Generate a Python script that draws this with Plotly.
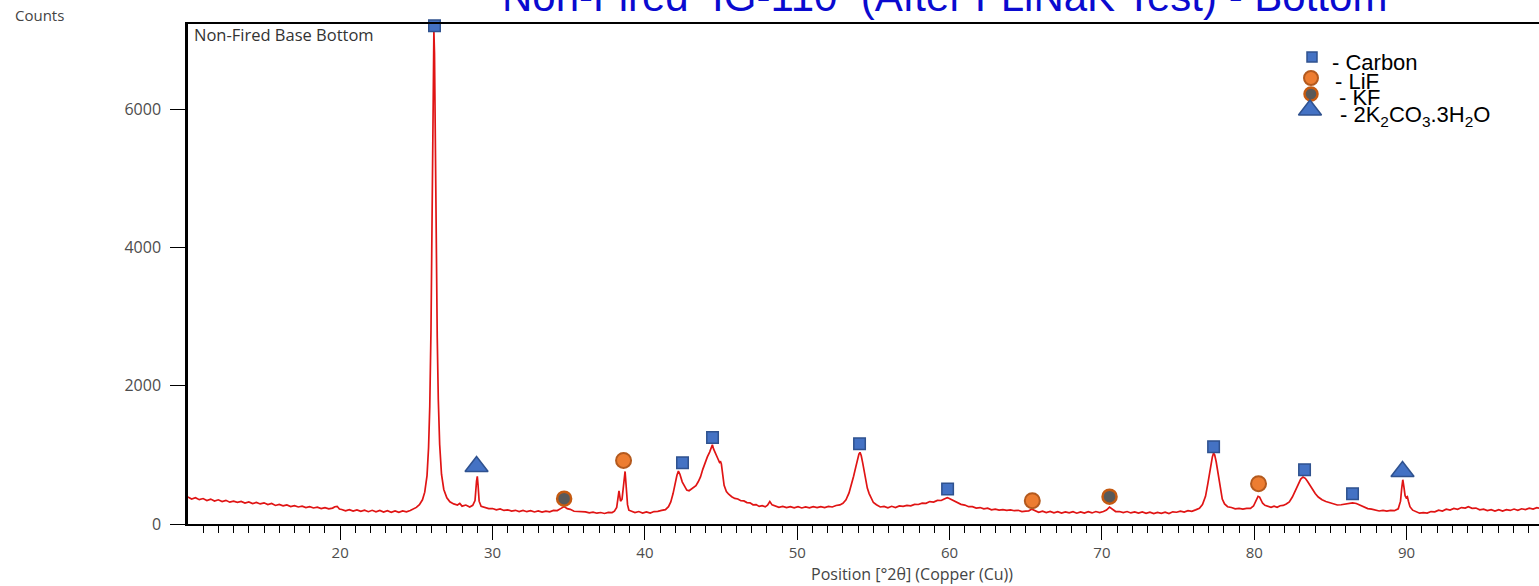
import plotly.graph_objects as go

# ---------------- data ----------------
seg_10_25 = [(10.0, 390), (10.25, 362), (10.5, 380), (10.75, 352), (11.0, 368), (11.25, 340), (11.5, 360),
             (11.75, 332), (12.0, 350), (12.25, 324), (12.5, 342), (12.75, 316), (13.0, 330), (13.25, 312),
             (13.5, 326), (13.75, 302), (14.0, 318), (14.25, 296), (14.5, 312), (14.75, 290), (15.0, 306),
             (15.25, 280), (15.5, 296), (15.75, 268), (16.0, 282), (16.25, 262), (16.5, 276), (16.75, 252),
             (17.0, 266), (17.25, 246), (17.5, 258), (17.75, 238), (18.0, 250), (18.25, 232), (18.5, 244),
             (18.75, 224), (19.0, 236), (19.25, 218), (19.5, 230), (19.65, 250), (19.8, 256), (19.95, 216),
             (20.1, 210), (20.35, 190), (20.6, 208), (20.85, 186), (21.1, 204), (21.35, 182), (21.6, 200),
             (21.85, 178), (22.1, 198), (22.35, 176), (22.6, 196), (22.85, 172), (23.1, 192), (23.35, 170),
             (23.6, 190), (23.85, 168), (24.1, 188), (24.35, 176), (24.6, 194), (24.8, 215)]
seg_25_30 = [(25.0, 240), (25.2, 280), (25.4, 350), (25.55, 460), (25.7, 700), (25.8, 1100), (25.88, 1700),
             (25.96, 2800), (26.02, 4100), (26.08, 5600), (26.12, 6600), (26.15, 7130), (26.19, 6800),
             (26.24, 5500), (26.3, 4000), (26.37, 2700), (26.44, 1800), (26.53, 1150), (26.65, 720),
             (26.8, 500), (27.0, 380), (27.2, 320), (27.45, 290), (27.7, 275), (27.85, 298), (28.0, 258),
             (28.25, 274), (28.5, 246), (28.7, 270), (28.85, 340), (28.95, 620), (29.0, 690), (29.05, 560),
             (29.12, 330), (29.25, 255), (29.5, 240), (29.75, 222)]
seg_30_41 = [(30.0, 224), (30.25, 204), (30.5, 218), (30.75, 196), (31.0, 204), (31.25, 186), (31.5, 198),
             (31.75, 180), (32.0, 196), (32.25, 178), (32.5, 192), (32.75, 174), (33.0, 190), (33.25, 172),
             (33.5, 186), (33.75, 176), (34.0, 196), (34.25, 194), (34.5, 226), (34.7, 252), (34.9, 222),
             (35.1, 212), (35.35, 184), (35.6, 180), (35.85, 170), (36.1, 176), (36.35, 160), (36.6, 170),
             (36.85, 156), (37.1, 166), (37.35, 152), (37.6, 168), (37.85, 166), (38.0, 185), (38.15, 240),
             (38.3, 480), (38.4, 330), (38.5, 360), (38.62, 600), (38.7, 760), (38.78, 520), (38.86, 280),
             (38.95, 200), (39.1, 184), (39.35, 164), (39.6, 180), (39.85, 158), (40.1, 176), (40.35, 158),
             (40.6, 180), (40.85, 182)]
seg_41_53 = [(41.1, 196), (41.35, 208), (41.55, 250), (41.7, 320), (41.85, 440), (42.0, 610), (42.1, 700),
             (42.2, 765), (42.3, 720), (42.45, 610), (42.6, 540), (42.75, 490), (42.9, 480), (43.05, 505),
             (43.2, 525), (43.35, 555), (43.5, 610), (43.65, 680), (43.8, 790), (43.95, 890), (44.1, 970),
             (44.25, 1040), (44.35, 1100), (44.43, 1145), (44.5, 1090), (44.6, 1030), (44.7, 990),
             (44.8, 940), (44.9, 890), (44.97, 900), (45.02, 870), (45.1, 720), (45.2, 560), (45.35, 470),
             (45.5, 430), (45.7, 395), (45.9, 370), (46.1, 362), (46.3, 336), (46.5, 334), (46.7, 310),
             (46.9, 306), (47.1, 278), (47.3, 280), (47.5, 254), (47.7, 266), (47.9, 248), (48.05, 272),
             (48.2, 325), (48.35, 276), (48.55, 258), (48.8, 242), (49.05, 254), (49.3, 236), (49.55, 252),
             (49.8, 234), (50.05, 250), (50.3, 232), (50.55, 248), (50.8, 234), (51.05, 250), (51.3, 236),
             (51.55, 252), (51.8, 238), (52.05, 254), (52.3, 246), (52.55, 268), (52.8, 276)]
seg_53_67 = [(53.0, 300), (53.2, 350), (53.4, 450), (53.55, 560), (53.7, 690), (53.85, 830), (53.95, 930),
             (54.05, 1010), (54.12, 1035), (54.2, 990), (54.3, 880), (54.4, 750), (54.5, 630), (54.6, 520),
             (54.72, 440), (54.85, 370), (55.0, 310), (55.2, 278), (55.45, 246), (55.7, 254), (55.95, 234),
             (56.2, 256), (56.45, 238), (56.7, 262), (56.95, 254), (57.2, 268), (57.45, 262), (57.7, 284),
             (57.95, 282), (58.2, 302), (58.45, 298), (58.7, 324), (58.95, 318), (59.2, 342), (59.45, 340),
             (59.65, 362), (59.85, 380), (59.95, 372), (60.1, 356), (60.3, 330), (60.5, 305), (60.75, 284),
             (61.0, 274), (61.25, 250), (61.5, 250), (61.75, 230), (62.0, 238), (62.25, 218), (62.5, 228),
             (62.75, 206), (63.0, 216), (63.25, 202), (63.5, 208), (63.75, 196), (64.0, 204), (64.25, 192),
             (64.5, 198), (64.75, 180), (65.0, 186), (65.2, 190), (65.4, 215), (65.6, 192), (65.85, 170),
             (66.1, 186), (66.35, 166), (66.6, 182), (66.85, 162)]
seg_67_79 = [(67.1, 178), (67.35, 158), (67.6, 176), (67.85, 160), (68.1, 178), (68.35, 156), (68.6, 176),
             (68.85, 158), (69.1, 178), (69.35, 160), (69.6, 180), (69.85, 164), (70.1, 180), (70.3, 202),
             (70.5, 245), (70.7, 212), (70.9, 180), (71.15, 180), (71.4, 164), (71.65, 180), (71.9, 160),
             (72.15, 176), (72.4, 158), (72.65, 174), (72.9, 154), (73.15, 172), (73.4, 150), (73.65, 168),
             (73.9, 154), (74.15, 172), (74.4, 152), (74.65, 176), (74.9, 170), (75.15, 186), (75.4, 172),
             (75.65, 192), (75.9, 184), (76.15, 204), (76.4, 226), (76.6, 280), (76.8, 400), (76.95, 580),
             (77.05, 720), (77.15, 860), (77.25, 970), (77.33, 1025), (77.4, 1000), (77.5, 900), (77.6, 760),
             (77.7, 600), (77.8, 460), (77.9, 360), (78.05, 290), (78.25, 250), (78.5, 238), (78.75, 220)]
seg_79_99 = [(79.0, 226), (79.25, 214), (79.5, 226), (79.75, 226), (79.95, 260), (80.1, 320), (80.25, 400),
             (80.35, 390), (80.45, 330), (80.55, 300), (80.7, 270), (80.9, 254), (81.1, 240), (81.3, 258),
             (81.5, 242), (81.7, 264), (81.9, 268), (82.1, 290), (82.3, 320), (82.5, 390), (82.7, 480),
             (82.9, 590), (83.05, 650), (83.2, 680), (83.35, 660), (83.5, 615), (83.65, 560), (83.8, 500),
             (84.0, 440), (84.2, 390), (84.45, 350), (84.7, 325), (84.95, 306), (85.2, 285), (85.45, 275),
             (85.7, 278), (85.95, 284), (86.2, 292), (86.45, 305), (86.7, 296), (86.95, 270), (87.2, 245),
             (87.45, 222), (87.7, 214), (87.95, 206), (88.2, 188), (88.45, 198), (88.7, 186), (88.95, 198),
             (89.2, 192), (89.45, 220), (89.6, 330), (89.68, 520), (89.75, 640), (89.82, 540), (89.9, 410),
             (89.97, 380), (90.05, 395), (90.12, 330), (90.22, 250), (90.4, 200), (90.6, 180), (90.85, 156),
             (91.1, 164), (91.35, 158), (91.6, 180), (91.85, 176), (92.1, 200), (92.35, 188), (92.6, 214),
             (92.85, 202), (93.1, 226), (93.35, 212), (93.6, 238), (93.85, 230), (94.05, 250), (94.3, 226),
             (94.55, 230), (94.8, 206), (95.05, 214), (95.3, 194), (95.55, 206), (95.8, 188), (96.05, 206),
             (96.3, 186), (96.55, 208), (96.8, 196), (97.05, 216), (97.3, 198), (97.55, 220), (97.8, 208),
             (98.05, 228), (98.3, 216), (98.55, 236), (98.8, 226)]

segments = [seg_10_25, seg_25_30, seg_30_41, seg_41_53, seg_53_67, seg_67_79, seg_79_99]
two_theta = [p[0] for s in segments for p in s]
counts = [p[1] for s in segments for p in s]

# phase markers (position, height)
carbon_x = [26.19, 42.47, 44.44, 54.09, 59.87, 77.33, 83.30, 86.45]
carbon_y = [7204, 886, 1252, 1161, 506, 1118, 785, 438]
lif_x = [38.60, 65.43, 80.28]
lif_y = [919, 337, 583]
kf_x = [34.70, 70.50]
kf_y = [366, 395]
k2co3_x = [28.95, 89.73]
k2co3_y = [831, 760]

legend_labels = ["- Carbon", "- LiF", "- KF", "- 2K<sub>2</sub>CO<sub>3</sub>.3H<sub>2</sub>O"]
x_ticks = [20, 30, 40, 50, 60, 70, 80, 90]
y_ticks = [0, 2000, 4000, 6000]

# ---------------- styles ----------------
BLUE = "#4472C4"
BLUE_EDGE = "#2F528F"
ORANGE = "#ED7D31"
ORANGE_EDGE = "#B45A1E"
GREY = "#595959"

W, H = 1539, 586
L, R, T, B = 188, 0, 24, 62
PW, PH = W - L - R, H - T - B

def px(xp):
    return (xp - L) / PW

def py(yp):
    return (H - B - yp) / PH

fig = go.Figure()

fig.add_trace(go.Scatter(x=two_theta, y=counts, mode="lines",
                         line=dict(color="#E01414", width=1.7), showlegend=False))

marker_styles = [
    (carbon_x, carbon_y, dict(symbol="square", size=11.5, color=BLUE, line=dict(color=BLUE_EDGE, width=1.5))),
    (lif_x, lif_y, dict(symbol="circle", size=15, color=ORANGE, line=dict(color=ORANGE_EDGE, width=2))),
    (kf_x, kf_y, dict(symbol="circle", size=14, color=GREY, line=dict(color="#C55A11", width=2.5))),
    (k2co3_x, k2co3_y, dict(symbol="triangle-up", size=20, color=BLUE, line=dict(color=BLUE_EDGE, width=1.5))),
]
for xs, ys, mk in marker_styles:
    fig.add_trace(go.Scatter(x=xs, y=ys, mode="markers", marker=mk, showlegend=False,
                             cliponaxis=False))

# legend keys (drawn on an overlay axis in paper units)
key_px = [(1312, 57), (1311, 78), (1311, 94), (1310, 110)]
key_styles = [
    dict(symbol="square", size=10, color=BLUE, line=dict(color=BLUE_EDGE, width=1.5)),
    dict(symbol="circle", size=14, color=ORANGE, line=dict(color=ORANGE_EDGE, width=2)),
    dict(symbol="circle", size=13, color=GREY, line=dict(color="#C55A11", width=2.5)),
    dict(symbol="triangle-up", size=20, color=BLUE, line=dict(color=BLUE_EDGE, width=1.5)),
]
for (kx, ky), mk in zip(key_px, key_styles):
    fig.add_trace(go.Scatter(x=[px(kx)], y=[py(ky)], mode="markers", marker=mk,
                             xaxis="x2", yaxis="y2", showlegend=False, cliponaxis=False))

text_px = [(1330, 63), (1333, 81), (1337, 97), (1338, 116)]
for (tx, ty), lab in zip(text_px, legend_labels):
    fig.add_annotation(x=px(tx), y=py(ty), xref="paper", yref="paper", text=lab, showarrow=False,
                       xanchor="left", yanchor="middle",
                       font=dict(family="Liberation Sans, Arial", size=22, color="black"))

# title (partially cut off at the top, as in the reference)
fig.add_annotation(x=px(944), y=1, xref="paper", yref="paper", yanchor="bottom", yshift=2,
                   xanchor="center", showarrow=False,
                   text="Non-Fired\u00a0\u00a0IG-110\u00a0\u00a0(After FLiNaK Test) - Bottom",
                   font=dict(family="Liberation Sans, Arial", size=42, color="#0A0ACF"))

fig.add_annotation(x=px(192), y=py(34), xref="paper", yref="paper", xanchor="left", yanchor="middle",
                   showarrow=False, text="Non-Fired Base Bottom",
                   font=dict(family="Open Sans", size=16.5, color="#333333"))

fig.add_annotation(x=px(13), y=py(15), xref="paper", yref="paper", xanchor="left", yanchor="middle",
                   showarrow=False, text="Counts",
                   font=dict(family="Open Sans", size=15, color="#444444"))

fig.add_annotation(x=px(912), y=py(574), xref="paper", yref="paper", xanchor="center", yanchor="middle",
                   showarrow=False, text="Position [°2θ] (Copper (Cu))",
                   font=dict(family="Open Sans", size=16, color="#444444"))

fig.update_layout(
    width=W, height=H,
    margin=dict(l=L, r=R, t=T, b=B, pad=0),
    paper_bgcolor="white", plot_bgcolor="white",
    xaxis=dict(range=[10.01, 98.69], tickmode="array", tickvals=x_ticks,
               ticks="outside", ticklen=14, tickwidth=1.3, tickcolor="black",
               minor=dict(tickmode="linear", tick0=0, dtick=1, ticks="outside", ticklen=7,
                          tickwidth=1.3, tickcolor="black", showgrid=False),
               showline=True, linecolor="black", linewidth=2, mirror=True,
               showgrid=False, zeroline=False,
               tickfont=dict(family="Open Sans", size=15, color="#4d4d4d")),
    yaxis=dict(range=[0, 7230], tickmode="array", tickvals=y_ticks,
               ticks="outside", ticklen=15, tickwidth=1.3, tickcolor="black",
               showline=True, linecolor="black", linewidth=2.5,
               showgrid=False, zeroline=False, ticklabelstandoff=6,
               tickfont=dict(family="Open Sans", size=16, color="#4d4d4d")),
    xaxis2=dict(overlaying="x", range=[0, 1], visible=False, fixedrange=True),
    yaxis2=dict(overlaying="y", range=[0, 1], visible=False, fixedrange=True),
    showlegend=False,
)

fig.write_html("out.html", config={"displayModeBar": False},
               post_script="document.body.style.margin='0';document.body.style.overflow='hidden';")
